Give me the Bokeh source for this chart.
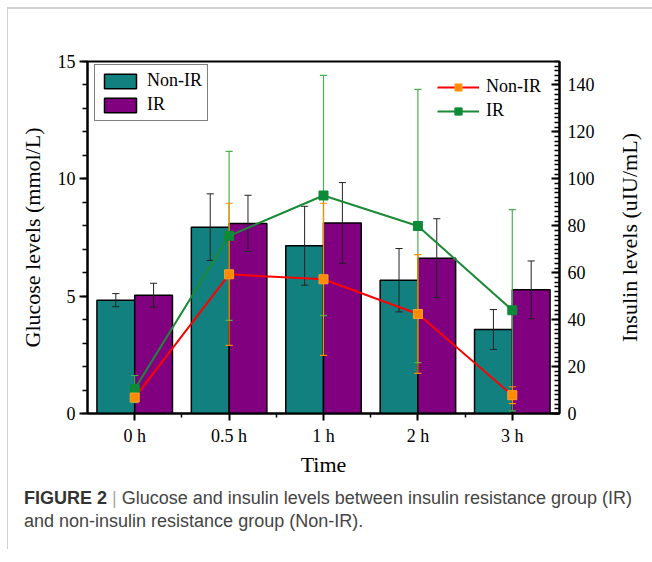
import numpy as np
from bokeh.plotting import figure
from bokeh.models import (Range1d, LinearAxis, FixedTicker, SingleIntervalTicker,
                          Legend, LegendItem, Div)
from bokeh.layouts import column, row
from bokeh.embed import file_html
from bokeh.resources import INLINE

# ---------------- data ----------------
times = ["0 h", "0.5 h", "1 h", "2 h", "3 h"]

glucose_nonir = [4.83, 7.94, 7.15, 5.68, 3.58]
glucose_nonir_err = [0.28, 1.42, 1.68, 1.35, 0.85]
glucose_ir = [5.04, 8.10, 8.12, 6.62, 5.27]
glucose_ir_err = [0.51, 1.20, 1.72, 1.68, 1.23]

insulin_nonir = [6.8, 59.3, 57.2, 42.4, 7.8]
insulin_nonir_err = [1.5, 30.3, 32.4, 25.3, 3.6]
insulin_ir = [10.4, 75.7, 92.9, 79.9, 44.0]
insulin_ir_err = [5.8, 36.0, 51.2, 58.2, 42.9]

glucose_ticks_interval = 5
insulin_ticks_interval = 20

# ---------------- styles ----------------
TEAL = "#138080"
PURPLE = "#800080"
RED = "#ff0000"
ORANGE = "#ff8c00"
GREEN_LINE = "#1a8a36"
GREEN_MARK = "#0d8a38"
GREEN_ERR = "#4caf50"
SERIF = "Liberation Serif"

FW, FH = 472, 352
BL, BR, BT, BB = 79, 58, 52, 64
x = np.arange(len(times), dtype=float)
bw = 0.4
cap = 0.038

p = figure(frame_width=FW, frame_height=FH,
           min_border_left=BL, min_border_right=BR,
           min_border_top=BT, min_border_bottom=BB,
           x_range=Range1d(-0.5, len(times) - 0.5),
           y_range=Range1d(0, 15),
           output_backend="svg", toolbar_location=None)
p.extra_y_ranges = {"ins": Range1d(0, 150)}
p.grid.visible = False
p.outline_line_color = "black"
p.outline_line_width = 2
p.background_fill_color = "white"
p.border_fill_color = "white"

# bars
xn = x - bw / 2
xi = x + bw / 2
r_bn = p.vbar(x=xn, top=glucose_nonir, width=bw, fill_color=TEAL,
              line_color="black", line_width=1.5)
r_bi = p.vbar(x=xi, top=glucose_ir, width=bw, fill_color=PURPLE,
              line_color="black", line_width=1.5)


def errbars(xs, ys, es, color, width=1.0, y_range_name="default"):
    ys = np.asarray(ys, float)
    es = np.asarray(es, float)
    lo = ys - es
    hi = ys + es
    kw = dict(line_color=color, line_width=width, y_range_name=y_range_name)
    p.segment(x0=xs, y0=lo, x1=xs, y1=hi, **kw)
    p.segment(x0=xs - cap, y0=hi, x1=xs + cap, y1=hi, **kw)
    p.segment(x0=xs - cap, y0=lo, x1=xs + cap, y1=lo, **kw)


errbars(xn, glucose_nonir, glucose_nonir_err, "#222222")
errbars(xi, glucose_ir, glucose_ir_err, "#222222")

# insulin error bars
errbars(x, insulin_ir, insulin_ir_err, GREEN_ERR, 1.2, "ins")
errbars(x, insulin_nonir, insulin_nonir_err, ORANGE, 1.2, "ins")

# insulin lines
l_ir = p.line(x, insulin_ir, line_color=GREEN_LINE, line_width=2, y_range_name="ins")
l_n = p.line(x, insulin_nonir, line_color=RED, line_width=2, y_range_name="ins")
m_ir = p.scatter(x, insulin_ir, marker="square", size=9, fill_color=GREEN_MARK,
                 line_color=GREEN_MARK, y_range_name="ins")
m_n = p.scatter(x, insulin_nonir, marker="square", size=9, fill_color=ORANGE,
                line_color="#ffa030", y_range_name="ins")

# axes
xa = p.xaxis[0]
xa.ticker = FixedTicker(ticks=list(x), minor_ticks=list(x[:-1] + 0.5))
xa.major_label_overrides = {float(i): t for i, t in enumerate(times)}
xa.axis_label = "Time"

ya = p.yaxis[0]
ya.ticker = SingleIntervalTicker(interval=glucose_ticks_interval, num_minor_ticks=5)
ya.axis_label = "Glucose levels (mmol/L)"

ra = LinearAxis(y_range_name="ins",
                ticker=SingleIntervalTicker(interval=insulin_ticks_interval, num_minor_ticks=10))
p.add_layout(ra, "right")

for ax in (xa, ya, ra):
    ax.axis_line_width = 2
    ax.axis_line_color = "black"
    ax.major_tick_line_width = 2
    ax.minor_tick_line_width = 1.5
    ax.major_tick_line_color = "black"
    ax.minor_tick_line_color = "black"
    ax.major_label_text_font = SERIF
    ax.major_label_text_font_size = "18px"
    ax.major_label_text_color = "black"
    ax.axis_label_text_font = SERIF
    ax.axis_label_text_font_size = "22px"
    ax.axis_label_text_font_style = "normal"
    ax.axis_label_text_color = "black"

xa.major_tick_out = 7
xa.major_tick_in = 0
xa.minor_tick_out = 4
xa.minor_tick_in = 0
xa.major_label_standoff = 5
xa.axis_label_standoff = 3

ya.major_tick_out = 8
ya.major_tick_in = 0
ya.minor_tick_out = 5
ya.minor_tick_in = 0
ya.major_label_standoff = 4
ya.axis_label_standoff = 10

ra.major_tick_out = 0
ra.major_tick_in = 8
ra.minor_tick_out = 0
ra.minor_tick_in = 5
ra.major_label_standoff = 8

# legends
leg_bars = Legend(items=[LegendItem(label="Non-IR", renderers=[r_bn]),
                         LegendItem(label="IR", renderers=[r_bi])],
                  location=(7, 292))
leg_lines = Legend(items=[LegendItem(label="Non-IR", renderers=[l_n, m_n]),
                          LegendItem(label="IR", renderers=[l_ir, m_ir])],
                   location=(350, 292))
for lg in (leg_bars, leg_lines):
    lg.label_text_font = SERIF
    lg.label_text_font_size = "18px"
    lg.label_text_color = "black"
    lg.glyph_height = 18
    lg.label_height = 18
    lg.spacing = 3
    lg.padding = 5
    lg.margin = 0
    lg.label_standoff = 7
    lg.background_fill_alpha = 1.0
leg_bars.glyph_width = 40
leg_bars.border_line_color = "black"
leg_bars.border_line_width = 1
leg_lines.glyph_width = 42
leg_lines.border_line_color = None
leg_lines.background_fill_alpha = 0.0
p.add_layout(leg_bars)
p.add_layout(leg_lines)

# right axis title, reading bottom-to-top as in the reference
fig_h = BT + FH + BB
right_title = Div(text=(
    f"<div style=\"height:{2 * (BT + FH // 2)}px;display:flex;align-items:center;"
    "justify-content:center;width:26px;\">"
    f"<div style=\"writing-mode:vertical-rl;transform:rotate(180deg);"
    f"font-family:'{SERIF}',serif;font-size:22px;line-height:24px;color:black;"
    "white-space:nowrap;\">Insulin levels (uIU/mL)</div></div>"),
    width=26, height=fig_h, margin=0, styles={"background-color": "white"})

caption = Div(text=(
    "<div style=\"font-family:'Liberation Sans',Arial,sans-serif;font-size:18px;"
    "color:#444;line-height:23px;padding-left:11px;padding-top:3px;white-space:nowrap;\">"
    "<b style='color:#333'>FIGURE 2</b> <span style='color:#aaa'>|</span> "
    "Glucose and insulin levels between insulin resistance group (IR)<br>"
    "and non-insulin resistance group (Non-IR).</div>"),
    width=635, height=60)

layout = column(row(p, right_title), caption, margin=(7, 0, 0, 7),
                styles={"border-top": "2px solid #d0d0d0",
                        "border-left": "1px solid #d0d0d0",
                        "background-color": "white"})

open("out.html", "w").write(file_html(layout, INLINE))
